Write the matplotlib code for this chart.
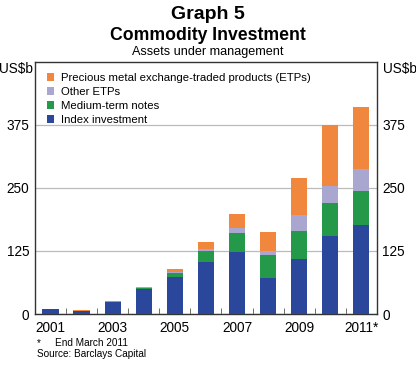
import numpy as np
import matplotlib
matplotlib.use('Agg')
from matplotlib import pyplot as plt

plt.rcParams['font.family'] = ['Liberation Sans', 'DejaVu Sans']

years = ['2001', '2002', '2003', '2004', '2005', '2006', '2007', '2008', '2009', '2010', '2011*']
# US$b
index_inv = [10, 6, 24, 49, 73, 103, 123, 71, 109, 155, 177]
mtn = [0, 0, 0, 3, 8, 22, 38, 46, 56, 65, 67]
other_etps = [0, 0, 0, 1, 3, 3, 10, 8, 31, 34, 44]
precious = [0, 2.5, 2, 1, 5, 15, 27, 38, 74, 121, 122]

c_index = '#2a479c'
c_mtn = '#25994a'
c_other = '#a9a7d0'
c_prec = '#f0873c'

fig = plt.figure(figsize=(4.16, 3.66), dpi=100)
ax = fig.add_axes([0.084, 0.142, 0.822, 0.689])

x = np.arange(len(years))
w = 0.52
b1 = np.array(index_inv, dtype=float)
b2 = b1 + np.array(mtn)
b3 = b2 + np.array(other_etps)
ax.bar(x, index_inv, w, color=c_index, label='Index investment', zorder=3)
ax.bar(x, mtn, w, bottom=b1, color=c_mtn, label='Medium-term notes', zorder=3)
ax.bar(x, other_etps, w, bottom=b2, color=c_other, label='Other ETPs', zorder=3)
ax.bar(x, precious, w, bottom=b3, color=c_prec,
       label='Precious metal exchange-traded products (ETPs)', zorder=3)

ax.set_xlim(-0.5, 10.5)
ax.set_ylim(0, 500)
ax.set_yticks([0, 125, 250, 375])
ax.yaxis.grid(True, color='#bbbbbb', linewidth=0.9, zorder=0)
ax.tick_params(axis='y', length=0, labelsize=9.8, pad=4,
               labelleft=True, labelright=True)
ax.set_xticks(x[::2])
ax.set_xticklabels(years[::2])
ax.set_xticks(x[:-1] + 0.5, minor=True)
ax.tick_params(axis='x', which='major', length=0, labelsize=9.8, pad=5)
ax.tick_params(axis='x', which='minor', length=4, direction='in', color='#555555')
for s in ax.spines.values():
    s.set_linewidth(1.0)
    s.set_color('#333333')

h, l = ax.get_legend_handles_labels()
leg = ax.legend(h[::-1], l[::-1], loc='upper left', frameon=False, fontsize=8.2,
                handlelength=0.65, handleheight=0.65, handletextpad=0.55,
                labelspacing=0.36, borderaxespad=0.0,
                bbox_to_anchor=(0.022, 0.975))

fig.text(0.5, 0.960, 'Graph 5', ha='center', va='center', fontsize=14, fontweight='bold')
fig.text(0.5, 0.903, 'Commodity Investment', ha='center', va='center', fontsize=12.7, fontweight='bold')
fig.text(0.5, 0.858, 'Assets under management', ha='center', va='center', fontsize=9.1)
fig.text(0.079, 0.811, 'US$b', ha='right', va='center', fontsize=9.8)
fig.text(0.92, 0.811, 'US$b', ha='left', va='center', fontsize=9.8)
fig.text(0.089, 0.063, '*', ha='left', va='center', fontsize=7.2)
fig.text(0.132, 0.063, 'End March 2011', ha='left', va='center', fontsize=7.2)
fig.text(0.089, 0.032, 'Source: Barclays Capital', ha='left', va='center', fontsize=7.2)

fig.savefig('out.png', dpi=100)
